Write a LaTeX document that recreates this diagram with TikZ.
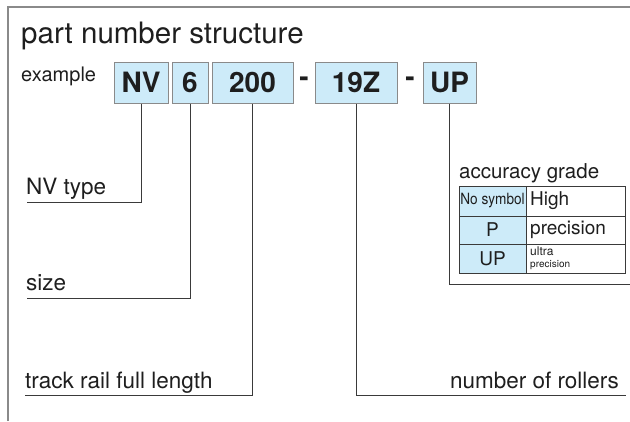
\documentclass[tikz,border=0pt]{standalone}
\usepackage{fontspec}
\usepackage{graphicx}
\setmainfont{TeX Gyre Heros}
\definecolor{boxblue}{HTML}{CDEBF9}
\definecolor{framegray}{HTML}{8A8A8A}
\definecolor{linedark}{HTML}{3A3A3A}
\definecolor{textdark}{HTML}{1E1E1E}
\newcommand{\fs}[1]{\fontsize{#1}{#1}\selectfont}
\tikzset{
  pbox/.style={draw=framegray, fill=boxblue, line width=1pt, inner sep=0pt, text=textdark},
  ptext/.style={inner sep=0pt, text=textdark},
  conn/.style={draw=linedark, line width=1pt},
  cell/.style={draw=linedark, line width=0.8pt}
}
\begin{document}
\begin{tikzpicture}[x=1pt,y=-1pt]
\useasboundingbox (0,0) rectangle (630,421);
% frame
\draw[framegray, line width=1.5pt] (8,421) -- (8,7) -- (630,7);
% title
\node[ptext, anchor=base west] (title) at (21,43) {\fs{29.5}part number structure};
\node[ptext, anchor=base west] (example) at (21,81) {\fs{20}example};
% boxes
\newcommand{\boxtxt}[1]{\fs{28}\bfseries #1}
\node[pbox, minimum width=54pt, minimum height=41pt] (nv) at (141,82.5) {\boxtxt{NV}};
\node[pbox, minimum width=36pt, minimum height=41pt] (six) at (190,82.5) {\boxtxt{6}};
\node[pbox, minimum width=81pt, minimum height=41pt] (len) at (252.5,82.5) {\boxtxt{200}};
\node[ptext] (d1) at (304,82) {\boxtxt{-}};
\node[pbox, minimum width=82pt, minimum height=41pt] (rol) at (356,82.5) {\boxtxt{19Z}};
\node[ptext] (d2) at (410,82) {\boxtxt{-}};
\node[pbox, minimum width=53pt, minimum height=41pt] (acc) at (449.5,82.5) {\boxtxt{UP}};
% labels
\node[ptext, anchor=base west] (lnv) at (26,194) {\fs{22.5}NV type};
\node[ptext, anchor=base west] (lsize) at (26,290) {\fs{22.5}size};
\node[ptext, anchor=base west] (llen) at (25,388) {\fs{22.5}track rail full length};
\node[ptext, anchor=base east] (lrol) at (619,388) {\fs{22.5}number of rollers};
\node[ptext, anchor=base west] (lacc) at (459,178) {\fs{20.5}accuracy grade};
% connector ends
\coordinate (env) at (27,202);
\coordinate (esize) at (27,298);
\coordinate (elen) at (25,395);
\coordinate (erol) at (626,395);
\coordinate (eacc) at (630,284);
\draw[conn] (nv.south) |- (env);
\draw[conn] (six.south) |- (esize);
\draw[conn] (len.south) |- (elen);
\draw[conn] (rol.south) |- (erol);
\draw[conn] (acc.south) |- (eacc);
% table
\fill[boxblue] (459,186) rectangle (526,273);
\draw[cell] (459,186) rectangle (625,273);
\draw[cell] (526,186) -- (526,273);
\draw[cell] (459,216) -- (625,216);
\draw[cell] (459,244) -- (625,244);
\node[ptext] (c11) at (492.5,201) {\scalebox{0.88}[1]{\fs{15.5}No symbol}};
\node[ptext, anchor=west] (c12) at (530,201) {\fs{19}High};
\node[ptext] (c21) at (492.5,230) {\fs{19}P};
\node[ptext, anchor=west] (c22) at (530,230) {\fs{19}precision};
\node[ptext] (c31) at (492.5,258.5) {\fs{19}UP};
\node[ptext, anchor=west, align=left] (c32) at (530,258.5) {\fontsize{12}{10.5}\selectfont ultra\\precision};
\end{tikzpicture}
\end{document}
